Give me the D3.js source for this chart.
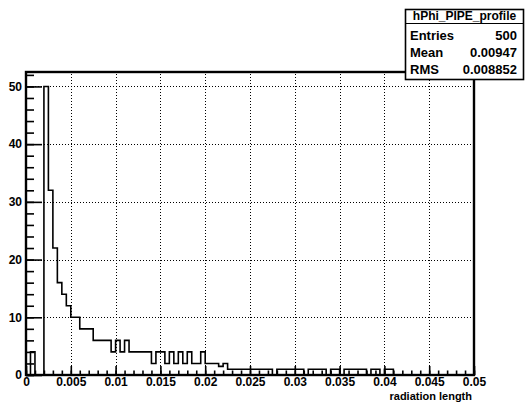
<!DOCTYPE html>
<html>
<head>
<meta charset="utf-8">
<script src="https://cdn.jsdelivr.net/npm/d3@7"></script>
<style>
  html, body { margin: 0; padding: 0; background: #fff; }
  svg { display: block; }
  text { font-family: "Liberation Sans", Arial, Helvetica, sans-serif; font-weight: bold; fill: #000; }
</style>
</head>
<body>
<svg id="chart" width="527" height="402"></svg>
<script>
// Histogram binning: 100 bins of width 0.0005 over [0, 0.05]
const binLow = 0;
const binWidth = 0.0005;
const binCounts = [
  0, 4, 0, 0, 50, 32, 22, 16, 14, 12,
  10, 10, 8, 8, 8, 6, 6, 6, 6, 4,
  6, 4, 6, 4, 4, 4, 4, 4, 2, 4,
  4, 2, 4, 2, 4, 2, 4, 2, 2, 4,
  2, 2, 2, 1.5, 2, 1, 1, 1, 1, 1,
  1, 1, 1, 1, 1, 0, 1, 1, 1, 1,
  1, 1, 0, 1, 1, 1, 1, 0, 1, 1,
  0, 1, 1, 1, 1, 1, 0, 1, 1, 0,
  1, 1, 0, 0, 0, 0, 0, 0, 0, 0,
  0, 0, 0, 0, 0, 0, 0, 0, 0, 0
];

// Axis ticks and labels
const xMajorTicks = [0, 0.005, 0.01, 0.015, 0.02, 0.025, 0.03, 0.035, 0.04, 0.045, 0.05];
const xTickLabels = ["0", "0.005", "0.01", "0.015", "0.02", "0.025", "0.03", "0.035", "0.04", "0.045", "0.05"];
const xMinorTicks = d3.range(0, 51).map(i => i / 1000);
const yMajorTicks = [0, 10, 20, 30, 40, 50];
const yTickLabels = ["0", "10", "20", "30", "40", "50"];
const yMinorTicks = d3.range(0, 27).map(i => i * 2);
const xGridValues = [0.005, 0.01, 0.015, 0.02, 0.025, 0.03, 0.035, 0.04, 0.045];
const yGridValues = [10, 20, 30, 40, 50];

// Statistics box contents
const statsTitle = "hPhi_PIPE_profile";
const statsNames = ["Entries", "Mean", "RMS"];
const statsValues = ["500", "0.00947", "0.008852"];
const xTitle = "radiation length";

const svg = d3.select("#chart");
svg.append("rect").attr("width", 527).attr("height", 402).attr("fill", "#fff");

const frame = { left: 26, right: 474, top: 72, bottom: 375 };
const x = d3.scaleLinear().domain([0, 0.05]).range([frame.left, frame.right]);
const y = d3.scaleLinear().domain([0, 52.5]).range([frame.bottom, frame.top]);

// Dotted grid
const grid = svg.append("g").attr("stroke", "#000").attr("stroke-width", 1)
  .attr("stroke-dasharray", "1,2").attr("fill", "none");
grid.selectAll("line.gx").data(xGridValues).join("line")
  .attr("class", "gx")
  .attr("x1", d => Math.round(x(d)) + 0.5).attr("x2", d => Math.round(x(d)) + 0.5)
  .attr("y1", frame.bottom).attr("y2", frame.top);
grid.selectAll("line.gy").data(yGridValues).join("line")
  .attr("class", "gy")
  .attr("y1", d => Math.round(y(d)) + 0.5).attr("y2", d => Math.round(y(d)) + 0.5)
  .attr("x1", frame.left).attr("x2", frame.right);

// Histogram outline
const pts = binCounts.map((c, i) => [binLow + i * binWidth, c]);
pts.push([binLow + binCounts.length * binWidth, binCounts[binCounts.length - 1]]);
const line = d3.line().x(d => x(d[0])).y(d => y(d[1])).curve(d3.curveStepAfter);
svg.append("path").datum(pts)
  .attr("d", line)
  .attr("fill", "none").attr("stroke", "#000").attr("stroke-width", 1.6);

// Axes with inward ticks
function styleAxis(g) {
  g.select(".domain").remove();
  g.selectAll(".tick line").attr("stroke", "#000").attr("stroke-width", 1.6);
  g.selectAll(".tick text").style("font-size", "12px").style("font-family", "'Liberation Sans', Arial, sans-serif").style("font-weight", "bold");
}

svg.append("g").attr("transform", `translate(0,${frame.bottom})`)
  .call(d3.axisBottom(x).tickValues(xMinorTicks).tickSizeInner(-4.5).tickSizeOuter(0).tickFormat(""))
  .call(styleAxis);
svg.append("g").attr("transform", `translate(0,${frame.bottom})`)
  .call(d3.axisBottom(x).tickValues(xMajorTicks).tickSizeInner(-9).tickSizeOuter(0).tickPadding(2.5)
    .tickFormat((d, i) => xTickLabels[i]))
  .call(styleAxis);

svg.append("g").attr("transform", `translate(${frame.left},0)`)
  .call(d3.axisLeft(y).tickValues(yMinorTicks).tickSizeInner(-8).tickSizeOuter(0).tickFormat(""))
  .call(styleAxis);
svg.append("g").attr("transform", `translate(${frame.left},0)`)
  .call(d3.axisLeft(y).tickValues(yMajorTicks).tickSizeInner(-16).tickSizeOuter(0).tickPadding(4)
    .tickFormat((d, i) => yTickLabels[i]))
  .call(styleAxis);

// Frame
svg.append("rect")
  .attr("x", frame.left).attr("y", frame.top)
  .attr("width", frame.right - frame.left).attr("height", frame.bottom - frame.top)
  .attr("fill", "none").attr("stroke", "#000").attr("stroke-width", 2.4);

// X axis title
svg.append("text")
  .attr("x", 472).attr("y", 399.5)
  .attr("text-anchor", "end")
  .style("font-size", "11px")
  .text(xTitle);

// Statistics box
const box = { x: 405.5, y: 9.5, w: 118, h: 70 };
const stats = svg.append("g");
stats.append("rect")
  .attr("x", box.x).attr("y", box.y).attr("width", box.w).attr("height", box.h)
  .attr("fill", "#fff").attr("stroke", "#000").attr("stroke-width", 1.6);
stats.append("line")
  .attr("x1", box.x).attr("x2", box.x + box.w)
  .attr("y1", 23.5).attr("y2", 23.5)
  .attr("stroke", "#000").attr("stroke-width", 1.2);
stats.append("text")
  .attr("x", box.x + box.w / 2).attr("y", 20)
  .attr("text-anchor", "middle")
  .style("font-size", "12px")
  .text(statsTitle);
const rowY = [39.5, 57, 74];
stats.selectAll("text.name").data(statsNames).join("text")
  .attr("class", "name")
  .attr("x", 410).attr("y", (d, i) => rowY[i])
  .style("font-size", "13px")
  .text(d => d);
stats.selectAll("text.val").data(statsValues).join("text")
  .attr("class", "val")
  .attr("x", 517).attr("y", (d, i) => rowY[i])
  .attr("text-anchor", "end")
  .style("font-size", "13px")
  .text(d => d);
</script>
</body>
</html>
